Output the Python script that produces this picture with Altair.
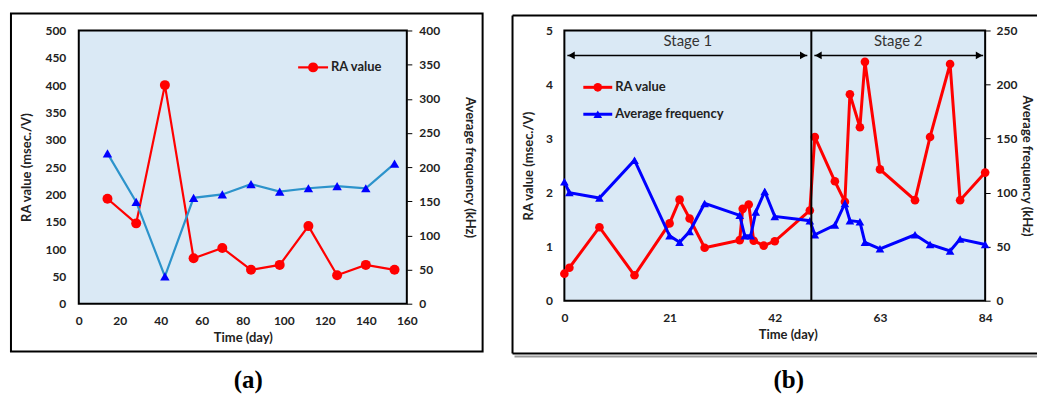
import altair as alt
import pandas as pd

# ---------------- data: panel (a) ----------------
days_a = [14, 28, 42, 56, 70, 84, 98, 112, 126, 140, 154]
ra_a = [192, 147, 400, 83, 102, 62, 71, 142, 52, 71, 62]
freq_a = [220, 149, 40, 155, 160, 175, 164, 169, 172, 169, 205]
x_ticks_a = [0, 20, 40, 60, 80, 100, 120, 140, 160]
ra_ticks_a = [0, 50, 100, 150, 200, 250, 300, 350, 400, 450, 500]
freq_ticks_a = [0, 50, 100, 150, 200, 250, 300, 350, 400]

# ---------------- data: panel (b) ----------------
ra_days_b = [0, 1, 7, 14, 21, 23, 25, 28, 35, 35.6, 36.8, 37.8, 39.8, 42, 49,
             50, 54, 56, 57, 59, 60, 63, 70, 73, 77, 79, 84]
ra_b = [0.50, 0.61, 1.36, 0.47, 1.43, 1.87, 1.52, 0.98, 1.12, 1.70, 1.78, 1.11,
        1.02, 1.10, 1.67, 3.03, 2.21, 1.83, 3.82, 3.21, 4.42, 2.43, 1.86, 3.03,
        4.38, 1.86, 2.37]
freq_days_b = [0, 1, 7, 14, 21, 23, 25, 28, 35, 36, 37.2, 38.2, 40, 42, 49,
               50, 54, 56, 57, 59, 60, 63, 70, 73, 77, 79, 84]
freq_b = [110, 100, 95, 130, 60, 54, 64, 90, 79, 60, 60, 82, 101, 78, 74,
          61, 70, 90, 74, 73, 54, 48, 61, 52, 46, 57, 52]
x_ticks_b = [0, 21, 42, 63, 84]
ra_ticks_b = [0, 1, 2, 3, 4, 5]
freq_ticks_b = [0, 50, 100, 150, 200, 250]

stage_labels = ["Stage 1", "Stage 2"]
stage_start = [0, 49.3]
stage_end = [49.3, 84]
stage_boundary = [49.3]
arrow_from = [0.6, 49.9]
arrow_to = [48.5, 83.6]

legend_a = ["RA value"]
legend_b = ["RA value", "Average frequency"]
panel_labels = ["(a)", "(b)"]

FONT = "Lato"
RED = "#FF0000"
BLUE = "#0000FF"
STEEL = "#2C93CB"
BG = "#DAE9F5"

one = pd.DataFrame({"k": [0]})


def frame_rect(x1, x2, y1, y2):
    return alt.Chart(one).mark_rect(fillOpacity=0, stroke="black", strokeWidth=2).encode(
        x=alt.value(x1), x2=alt.value(x2), y=alt.value(y1), y2=alt.value(y2))


def hrule(x1, x2, y, color="black", w=2):
    return alt.Chart(one).mark_rule(color=color, strokeWidth=w).encode(
        x=alt.value(x1), x2=alt.value(x2), y=alt.value(y))


def vrule(x, y1, y2, color="black", w=2):
    return alt.Chart(one).mark_rule(color=color, strokeWidth=w).encode(
        x=alt.value(x), y=alt.value(y1), y2=alt.value(y2))


def legend_item(x1, x2, y, color, shape, size, text, sw):
    line = hrule(x1, x2, y, color=color, w=sw)
    pt = alt.Chart(one).mark_point(shape=shape, filled=True, color=color, size=size, opacity=1).encode(
        x=alt.value((x1 + x2) / 2), y=alt.value(y))
    tx = alt.Chart(pd.DataFrame({"t": [text]})).mark_text(
        align="left", baseline="middle", font=FONT, fontWeight="bold", fontSize=13, color="#222").encode(
        x=alt.value(x2 + 3), y=alt.value(y), text="t:N")
    return [line, pt, tx]


def panel_label(x, y, text):
    return alt.Chart(pd.DataFrame({"t": [text]})).mark_text(
        align="center", baseline="middle", font="Liberation Serif", fontWeight="bold",
        fontSize=25, color="black").encode(x=alt.value(x), y=alt.value(y), text="t:N")


# ---------------- panel (a) ----------------
WA, HA = 329, 274
df_a = pd.DataFrame({"day": days_a, "ra": ra_a, "freq": freq_a})
xa = alt.X("day:Q", scale=alt.Scale(domain=[0, 160], nice=False),
           axis=alt.Axis(values=x_ticks_a, title="Time (day)", ticks=False, domain=False,
                         grid=False, labelFlush=False, labelPadding=12, titlePadding=5))
ra_line_a = alt.Chart(df_a).mark_line(
    color=RED, strokeWidth=2.2,
    point=alt.OverlayMarkDef(shape="circle", filled=True, color=RED, size=100, opacity=1)).encode(
    x=xa,
    y=alt.Y("ra:Q", scale=alt.Scale(domain=[0, 500], nice=False),
            axis=alt.Axis(values=ra_ticks_a, orient="left", title="RA value (msec./V)", ticks=False,
                          domain=False, grid=False, labelPadding=13, titlePadding=12)))
freq_line_a = alt.Chart(df_a).mark_line(
    color=STEEL, strokeWidth=2.2,
    point=alt.OverlayMarkDef(shape="triangle-up", filled=True, color=BLUE, size=90, opacity=1)).encode(
    x=xa,
    y=alt.Y("freq:Q", scale=alt.Scale(domain=[0, 400], nice=False),
            axis=alt.Axis(values=freq_ticks_a, orient="right", title="Average frequency (kHz)",
                          ticks=True, tickSize=5, domain=False, grid=False, labelPadding=7,
                          titlePadding=23)))

layers_a = [frame_rect(-68, 405, -17, 322), ra_line_a, freq_line_a]
layers_a += legend_item(220, 250, 37, RED, "circle", 100, legend_a[0], 2.2)
layers_a += [panel_label(170, 351, panel_labels[0])]
panel_a = alt.layer(*layers_a).resolve_scale(y="independent").properties(width=WA, height=HA)

# ---------------- panel (b) ----------------
WB, HB = 422, 271
df_rb = pd.DataFrame({"day": ra_days_b, "ra": ra_b})
df_fb = pd.DataFrame({"day": freq_days_b, "freq": freq_b})
xscale_b = alt.Scale(domain=[0, 84], nice=False)
xaxis_b = alt.Axis(values=x_ticks_b, title="Time (day)", ticks=False, domain=False,
                   grid=False, labelFlush=False, labelPadding=12, titlePadding=5, titleX=224)
xb = alt.X("day:Q", scale=xscale_b, axis=xaxis_b)
ra_line_b = alt.Chart(df_rb).mark_line(
    color=RED, strokeWidth=3,
    point=alt.OverlayMarkDef(shape="circle", filled=True, color=RED, size=75, opacity=1)).encode(
    x=xb,
    y=alt.Y("ra:Q", scale=alt.Scale(domain=[0, 5], nice=False),
            axis=alt.Axis(values=ra_ticks_b, orient="left", title="RA value (msec./V)", ticks=False,
                          domain=False, grid=False, labelPadding=12, titlePadding=10)))
freq_line_b = alt.Chart(df_fb).mark_line(
    color=BLUE, strokeWidth=3,
    point=alt.OverlayMarkDef(shape="triangle-up", filled=True, color=BLUE, size=75, opacity=1)).encode(
    x=xb,
    y=alt.Y("freq:Q", scale=alt.Scale(domain=[0, 250], nice=False),
            axis=alt.Axis(values=freq_ticks_b, orient="right", title="Average frequency (kHz)",
                          ticks=True, tickSize=5, domain=False, grid=False, labelPadding=6,
                          titlePadding=3)))

df_stage = pd.DataFrame({"label": stage_labels, "s": stage_start, "e": stage_end,
                         "a0": arrow_from, "a1": arrow_to})
df_stage["mid"] = (df_stage["s"] + df_stage["e"]) / 2
df_stage["h0"] = df_stage["a0"] + 0.8
df_stage["h1"] = df_stage["a1"] - 0.8


def xs(f):
    return alt.X(f + ":Q", scale=xscale_b, axis=xaxis_b)


arrow_lines = alt.Chart(df_stage).mark_rule(color="black", strokeWidth=1.5).encode(
    x=xs("a0"), x2="a1:Q", y=alt.value(25))
arrow_left = alt.Chart(df_stage).mark_point(shape="triangle-left", filled=True, color="black",
                                            size=60, opacity=1).encode(x=xs("h0"), y=alt.value(25))
arrow_right = alt.Chart(df_stage).mark_point(shape="triangle-right", filled=True, color="black",
                                             size=60, opacity=1).encode(x=xs("h1"), y=alt.value(25))
stage_text = alt.Chart(df_stage).mark_text(font=FONT, fontSize=15, color="#333",
                                           baseline="middle").encode(
    x=xs("mid"), y=alt.value(11), text="label:N")
boundary = alt.Chart(pd.DataFrame({"b": stage_boundary})).mark_rule(color="black", strokeWidth=2).encode(
    x=xs("b"), y=alt.value(0), y2=alt.value(HB))

layers_b = [
    hrule(-52, 474, -15), vrule(-52, -15, 324), hrule(-52, 474, 324),
    hrule(-50, 474, 327, color="#999", w=2),
    ra_line_b, freq_line_b, boundary, arrow_lines, arrow_left, arrow_right, stage_text,
]
layers_b += legend_item(19, 48, 57, RED, "circle", 75, legend_b[0], 3)
layers_b += legend_item(19, 48, 84, BLUE, "triangle-up", 75, legend_b[1], 3)
layers_b += [panel_label(225, 351, panel_labels[1])]
panel_b = alt.layer(*layers_b).resolve_scale(y="independent").properties(width=WB, height=HB)

chart = alt.hconcat(panel_a, panel_b, spacing=158, bounds="flush").properties(
    padding={"left": 9, "top": 11, "right": 0, "bottom": 0}
).configure_view(fill=BG, stroke="black", strokeWidth=2).configure_axis(
    labelFont=FONT, titleFont=FONT, labelFontWeight="bold", titleFontWeight="bold",
    labelFontSize=12, titleFontSize=13, labelColor="#222", titleColor="#222", tickColor="black"
)

chart.save("out.html", embed_options={"renderer": "svg", "actions": False})
